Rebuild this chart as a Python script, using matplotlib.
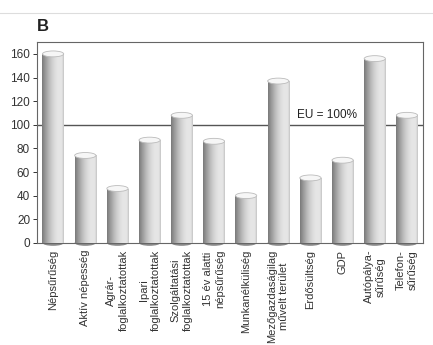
import numpy as np
import matplotlib
matplotlib.use("Agg")
import matplotlib.pyplot as plt
from matplotlib.patches import Ellipse, Rectangle

plt.rcParams['font.family'] = ['Liberation Sans', 'DejaVu Sans']

# mutatok (EU = 100%)
categories = ['Népsűrűség', 'Aktív népesség', 'Agrár-\nfoglalkoztatottak',
              'Ipari\nfoglalkoztatottak', 'Szolgáltatási\nfoglalkoztatottak',
              '15 év alatti\nnépsűrűség', 'Munkanélküliség',
              'Mezőgazdaságilag\nművelt terület', 'Erdősültség', 'GDP',
              'Autópálya-\nsűrűség', 'Telefon-\nsűrűség']
values = [160, 74, 46, 87, 108, 86, 40, 137, 55, 70, 156, 108]
eu_level = 100
yticks = [0, 20, 40, 60, 80, 100, 120, 140, 160]

fig = plt.figure(figsize=(4.33, 3.45), dpi=100)
ax = fig.add_axes([0.0855, 0.296, 0.8915, 0.582])

x = np.arange(len(values))
w = 0.66
cap_h = 5.0

# henger arnyalasa: balra sotet, jobbra vilagos
grad = np.linspace(0, 1, 64)
shade = 0.48 + 0.42 * np.sin(grad * np.pi * 0.62)
shade[-6:] = shade[-6:] - np.linspace(0, 0.10, 6)
img = np.tile(shade, (2, 1))

ax.axhline(eu_level, color='#555555', lw=1.0, zorder=1)
ax.text(8.5, eu_level + 3, 'EU = 100%', ha='center', va='bottom',
        fontsize=8.5, color='#222222')

bars = ax.bar(x, values, width=w, color='none', edgecolor='none', zorder=2)
for xi, v in zip(x, values):
    bottom = Ellipse((xi, 0), w, cap_h, facecolor='#8a8a8a', edgecolor='none',
                     zorder=2, clip_on=False)
    ax.add_patch(bottom)
    im = ax.imshow(img, cmap='gray', vmin=0, vmax=1, aspect='auto',
                   extent=[xi - w / 2, xi + w / 2, 0, v], zorder=3,
                   interpolation='bilinear')
    clip = Rectangle((xi - w / 2, -cap_h / 2), w, v + cap_h / 2,
                     transform=ax.transData)
    im.set_clip_path(clip)
    top = Ellipse((xi, v), w, cap_h, facecolor='#f6f6f6', edgecolor='#bbbbbb',
                  lw=0.6, zorder=4)
    ax.add_patch(top)

ax.set_xlim(-0.5, len(values) - 0.5)
ax.set_ylim(0, 170)
ax.set_yticks(yticks)
ax.set_xticks(x)
ax.set_xticklabels(categories, rotation=90, ha='center', va='top',
                   fontsize=8.0, color='#333333', linespacing=1.25)
ax.tick_params(axis='x', length=0, pad=5)
ax.tick_params(axis='y', length=3, width=0.7, labelsize=8.5,
               colors='#333333', pad=2)
for s in ax.spines.values():
    s.set_color('#666666')
    s.set_linewidth(0.8)

fig.text(0.0855, 0.902, 'B', fontsize=12, fontweight='bold',
         color='#222222', ha='left', va='bottom')
fig.add_artist(plt.Line2D([0, 1], [0.962, 0.962], color='#dddddd', lw=0.8))

fig.savefig('out.png', dpi=100)
